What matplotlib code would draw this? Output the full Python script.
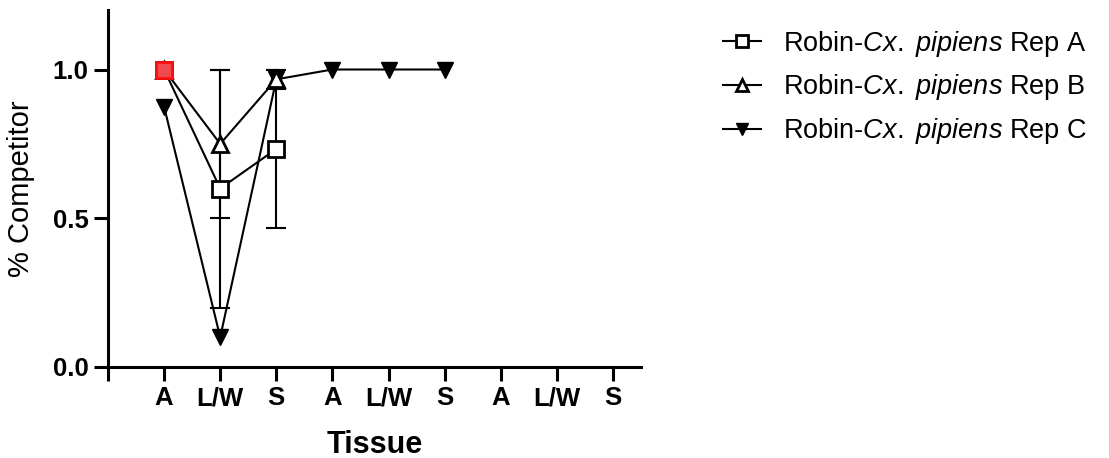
import matplotlib
matplotlib.use("Agg")
import matplotlib.pyplot as plt
import numpy as np

plt.rcParams['font.family'] = ['Liberation Sans', 'DejaVu Sans']
plt.rcParams['mathtext.fontset'] = 'custom'
plt.rcParams['mathtext.rm'] = 'Liberation Sans'
plt.rcParams['mathtext.it'] = 'Liberation Sans:italic'

tissues = ['A', 'L/W', 'S', 'A', 'L/W', 'S', 'A', 'L/W', 'S']
pos = np.arange(1, 10)

# replicate A / B / C means and SD (0 = no bar)
rep_a = [1.0, 0.6, 0.733]
rep_a_sd = [0.0, 0.4, 0.267]
rep_b = [1.0, 0.75, 0.967]
rep_b_sd = [0.0, 0.25, 0.033]
rep_c = [0.875, 0.1, 0.967, 1.0, 1.0, 1.0]

labels = ['Robin-$\\it{Cx.}$ $\\it{pipiens}$ Rep A',
          'Robin-$\\it{Cx.}$ $\\it{pipiens}$ Rep B',
          'Robin-$\\it{Cx.}$ $\\it{pipiens}$ Rep C']

fig = plt.figure(figsize=(11.09, 4.58), dpi=100)
ax = fig.add_axes([108/1109, 1-367/458, (641-108)/1109, (367-10)/458])

lw = 1.5
ms = 11
mew = 2.0


def bars(y, sd, z):
    y = np.array(y)
    sd = np.array(sd)
    m = sd > 0
    ax.errorbar(pos[:len(y)][m], y[m], yerr=sd[m], fmt='none', ecolor='black',
                elinewidth=lw, capsize=7, capthick=lw, zorder=z)


bars(rep_a, rep_a_sd, 2)
bars(rep_b, rep_b_sd, 2)

hc, = ax.plot(pos[:len(rep_c)], rep_c, color='black', lw=lw, marker='v', ms=ms,
              mfc='black', mec='black', mew=1, zorder=3)
hb, = ax.plot(pos[:len(rep_b)], rep_b, color='black', lw=lw, marker='^', ms=ms,
              mfc='white', mec='black', mew=mew, zorder=4)
ha, = ax.plot(pos[:len(rep_a)], rep_a, color='black', lw=lw, marker='s', ms=ms,
              mfc='white', mec='black', mew=mew, zorder=5)
# highlighted first point
ax.plot(pos[0], rep_a[0], marker='s', ms=ms, mfc='#f04a50', mec='#ff1010',
        mew=mew, zorder=6)

ax.set_xlim(0, 9.5)
ax.set_ylim(0, 1.2)
ax.set_xticks(np.arange(0, 10))
ax.set_xticklabels([''] + tissues)
ax.set_yticks([0.0, 0.5, 1.0])
ax.set_yticklabels(['0.0', '0.5', '1.0'])

for side in ['top', 'right']:
    ax.spines[side].set_visible(False)
for side in ['left', 'bottom']:
    ax.spines[side].set_linewidth(2.2)
ax.tick_params(width=2.2, length=10, labelsize=18.5, pad=4)
for t in ax.get_xticklabels() + ax.get_yticklabels():
    t.set_fontweight('bold')

ax.set_ylabel('% Competitor', fontsize=21, labelpad=13)
ax.set_xlabel('Tissue', fontsize=22, fontweight='bold', labelpad=14)

fig.legend([ha, hb, hc], labels, loc='upper left', bbox_to_anchor=(0.63, 0.99),
           frameon=False, fontsize=19.5, handlelength=1.4, handletextpad=0.8,
           labelspacing=0.5, markerscale=0.85)

fig.savefig('out.png', dpi=100)
